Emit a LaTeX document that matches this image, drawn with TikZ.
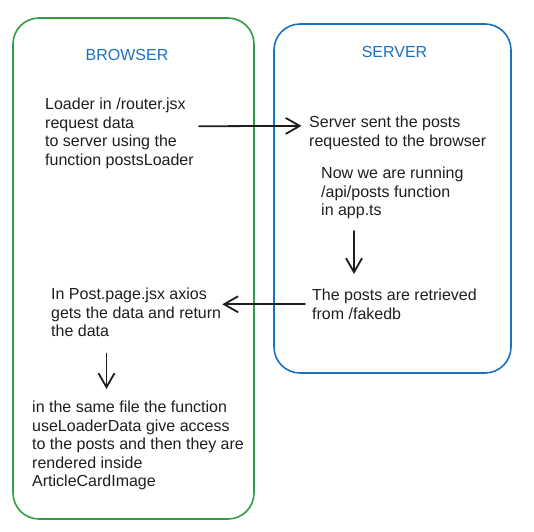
\documentclass[tikz,border=0pt]{standalone}
\usepackage{fontspec}
\setmainfont{Liberation Sans}
\usetikzlibrary{arrows.meta}
\definecolor{exgreen}{HTML}{2F9E44}
\definecolor{exblue}{HTML}{1971C2}
\definecolor{ink}{HTML}{1E1E1E}
\begin{document}
\begin{tikzpicture}[x=1pt,y=-1pt,
  panel/.style={line width=1.6pt, rounded corners=26pt, anchor=north west, inner sep=0pt, outer sep=0pt},
  title/.style={text=exblue, font=\fontsize{16}{18.4}\selectfont, inner sep=0pt},
  note/.style={text=ink, font=\fontsize{16}{18.4}\selectfont, align=left, inner sep=0pt, anchor=north west},
  arr/.style={draw=ink, line width=1.8pt, line cap=round, -{Straight Barb[length=14pt,width=16pt]}}]
\useasboundingbox (0,0) rectangle (534,531);
\node[panel, draw=exgreen, minimum width=241pt, minimum height=501pt] (browser) at (13,18) {};
\node[panel, draw=exblue, minimum width=237pt, minimum height=349pt] (server) at (274,24) {};
\node[title] (tb) at (127,54.5) {BROWSER};
\node[title] (ts) at (394.5,52) {SERVER};
\node[note] (b1) at (45,98) {Loader in /router.jsx\\request data\\to server using the\\function postsLoader};
\node[note] (b2) at (309,116) {Server sent the posts\\requested to the browser};
\node[note] (b3) at (321,167) {Now we are running\\/api/posts function\\in app.ts};
\node[note] (b4) at (312,289) {The posts are retrieved\\from /fakedb};
\node[note] (b5) at (51,288) {In Post.page.jsx axios\\gets the data and return\\the data};
\node[note] (b6) at (32,401) {in the same file the function\\useLoaderData give access\\to the posts and then they are\\rendered inside\\ArticleCardImage};
\draw[arr] ([shift={(5,-7)}]b1.east) -- ([shift={(-7.5,-7)}]b2.west);
\draw[arr] ([shift={(33,12)}]b3.south west) -- ([shift={(42,-15)}]b4.north west);
\draw[arr] ([xshift=-7pt]b4.west) -- ([xshift=1pt]b5.east |- b4.west);
\draw[arr] ([shift={(55.5,16.5)}]b5.south west) -- ([shift={(74.5,-12)}]b6.north west);
\end{tikzpicture}
\end{document}
